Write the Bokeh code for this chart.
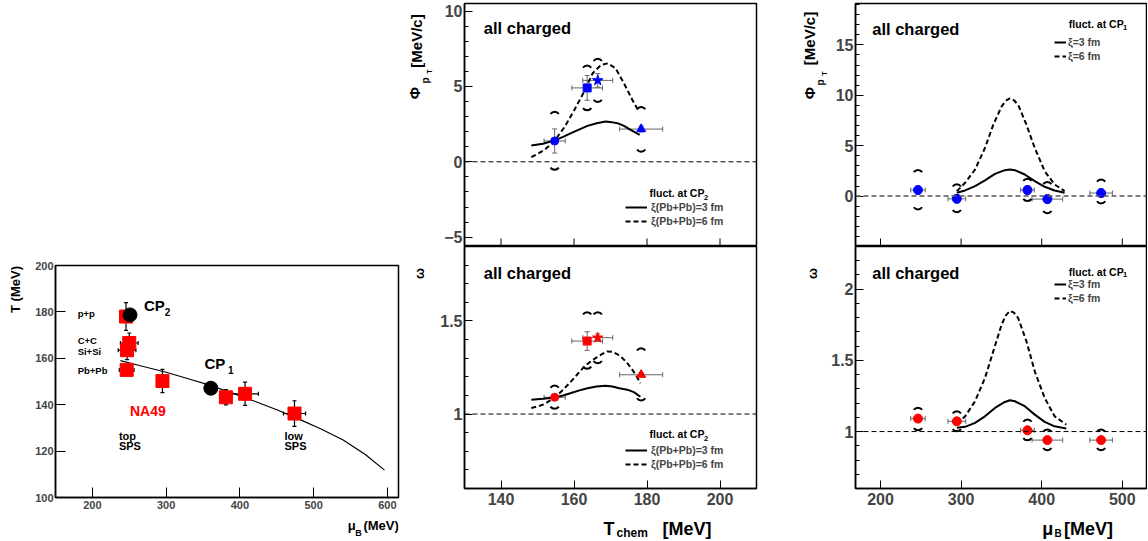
import numpy as np
from bokeh.plotting import figure
from bokeh.layouts import row, column
from bokeh.models import (Range1d, FixedTicker, Label, Span, Whisker, TeeHead,
                          ColumnDataSource, Legend, LegendItem, NumeralTickFormatter)
from bokeh.embed import file_html
from bokeh.resources import INLINE

FONT = "Liberation Sans"

# ---------------- data: left panel (T vs mu_B) ----------------
sys_mu = [245.6, 250.0, 247.0, 246.5, 295.0, 381.0, 407.0, 474.0]
sys_T = [178.0, 166.6, 163.5, 155.0, 150.2, 143.2, 144.7, 136.2]
sys_mu_err = [0.0, 12.0, 12.0, 10.0, 8.0, 8.0, 18.0, 15.0]
sys_T_err = [6.0, 4.3, 4.1, 1.0, 5.0, 3.3, 5.0, 5.5]
cp_mu = [251.0, 360.6]
cp_T = [178.7, 147.1]
fo_mu = [238, 265, 300, 330, 360, 390, 420, 450, 480, 510, 540, 570, 596]
fo_T = [159.0, 156.8, 154.0, 151.2, 148.3, 145.0, 141.5, 137.8, 133.8, 129.5, 124.8, 118.5, 111.8]

# ---------------- data: middle panels (vs T_chem) ----------------
tc = [154.7, 163.6, 166.5, 178.4]
tc_err = [2.9, 4.2, 4.1, 5.9]
tc_marker = ["circle", "square", "star", "triangle"]
tc_size = [8, 8, 11, 9]
phi_m = [1.38, 4.90, 5.40, 2.17]
phi_m_err = [0.80, 0.82, 0.45, 0.20]
phi_m_sys_hi = [2.98, 6.05, 6.50, 3.30]
phi_m_sys_lo = [-0.20, 3.75, 4.30, 1.00]
om_m = [1.090, 1.392, 1.410, 1.211]
om_m_err = [0.010, 0.050, 0.020, 0.010]
om_m_sys_hi = [1.126, 1.520, 1.520, 1.326]
om_m_sys_lo = [1.055, 1.270, 1.300, 1.100]

phi3_T = [148.3, 151.5, 154.7, 157.0, 159.2, 161.5, 163.7, 166.2, 168.7, 170.3, 171.9, 173.7, 175.5, 177.0, 178.0]
phi3 = [1.08, 1.20, 1.42, 1.65, 1.90, 2.15, 2.38, 2.56, 2.67, 2.63, 2.56, 2.38, 2.12, 1.92, 1.79]
phi6_T = [148.3, 150.2, 152.0, 154.7, 157.4, 160.1, 162.8, 165.1, 167.4, 169.3, 171.4, 173.7, 176.0, 177.8]
phi6 = [0.31, 0.55, 0.80, 1.41, 2.30, 3.44, 4.66, 5.87, 6.42, 6.53, 6.20, 5.20, 4.10, 3.33]
om3_T = [148.3, 151.5, 154.7, 157.0, 159.2, 161.5, 163.7, 166.2, 168.7, 170.5, 172.4, 174.6, 176.4, 178.2]
om3 = [1.077, 1.082, 1.089, 1.100, 1.113, 1.127, 1.139, 1.148, 1.152, 1.148, 1.139, 1.131, 1.118, 1.093]
om6_T = [148.3, 150.2, 152.0, 154.7, 157.0, 159.2, 161.0, 162.8, 164.4, 165.9, 167.5, 169.1, 170.5,
         171.9, 173.3, 174.6, 175.8, 176.9, 178.2]
om6 = [1.032, 1.042, 1.054, 1.089, 1.130, 1.175, 1.215, 1.255, 1.280, 1.300, 1.320, 1.336, 1.335,
       1.321, 1.300, 1.273, 1.243, 1.211, 1.166]

# ---------------- data: right panels (vs mu_B) ----------------
r_mu = [246.5, 294.7, 382.3, 407.0, 473.7]
r_mu_err = [9.0, 11.0, 8.5, 19.0, 14.0]
r_phi = [0.60, -0.27, 0.60, -0.30, 0.30]
r_phi_err = [0.40, 0.40, 0.40, 0.40, 0.40]
r_phi_sys_hi = [2.09, 0.67, 1.23, 0.90, 1.15]
r_phi_sys_lo = [-0.83, -1.10, 0.00, -1.20, -0.23]
r_om = [1.091, 1.072, 1.009, 0.940, 0.940]
r_om_err = [0.015, 0.015, 0.015, 0.015, 0.015]
r_om_sys_hi = [1.133, 1.107, 1.049, 0.980, 0.980]
r_om_sys_lo = [1.044, 1.037, 0.974, 0.904, 0.904]

rphi3_mu = [294.7, 305.0, 317.3, 329.6, 342.0, 354.3, 360.5, 366.7, 379.0, 391.4, 403.7, 416.0, 428.4]
rphi3 = [0.33, 0.56, 0.99, 1.55, 2.20, 2.57, 2.63, 2.57, 2.14, 1.48, 0.92, 0.56, 0.33]
rphi6_mu = [294.7, 305.0, 317.3, 329.6, 339.9, 350.2, 355.3, 360.5, 365.6, 370.8, 381.1, 391.4, 403.7, 416.0, 428.4]
rphi6 = [0.49, 1.32, 2.63, 4.77, 7.07, 8.88, 9.45, 9.70, 9.50, 9.05, 7.07, 4.77, 2.47, 1.15, 0.49]
rom3_mu = [294.7, 305.0, 317.3, 329.6, 342.0, 354.3, 360.5, 366.7, 379.0, 391.4, 403.7, 416.0, 430.5]
rom3 = [1.026, 1.033, 1.061, 1.107, 1.166, 1.208, 1.220, 1.213, 1.178, 1.119, 1.068, 1.037, 1.021]
rom6_mu = [294.7, 305.0, 317.3, 329.6, 339.9, 350.2, 355.3, 360.5, 365.6, 370.8, 381.1, 391.4, 403.7, 416.0, 430.5]
rom6 = [1.054, 1.107, 1.213, 1.376, 1.563, 1.750, 1.815, 1.848, 1.835, 1.797, 1.633, 1.423, 1.236, 1.107, 1.049]

# tick positions
left_xticks = [200, 300, 400, 500, 600]
left_yticks = [100, 120, 140, 160, 180, 200]
mid_xticks = [140, 160, 180, 200]
mid_phi_ticks = [-5, 0, 5, 10]
mid_phi_minor = list(range(-5, 11))
mid_om_ticks = [1.0, 1.5]
mid_om_minor = [round(0.6 + 0.1 * i, 1) for i in range(14)]
r_xticks = [200, 300, 400, 500]
r_phi_ticks = [0, 5, 10, 15]
r_phi_minor = list(range(-5, 20))
r_om_ticks = [1.0, 1.5, 2.0]
r_om_minor = [round(0.6 + 0.1 * i, 1) for i in range(18)]
phi_ref = 0.0
om_ref = 1.0

BLUE = "#0000ff"
RED = "#ff0000"
GRAY = "#666666"
PI2 = np.pi / 2


def mkfig(w, h, xr, yr, bl, br, bt, bb, xaxis=True):
    kw = {} if xaxis else {"x_axis_type": None}
    p = figure(width=w, height=h, x_range=Range1d(*xr), y_range=Range1d(*yr),
               output_backend="svg", toolbar_location=None,
               min_border_left=bl, min_border_right=br, min_border_top=bt, min_border_bottom=bb, **kw)
    p.xgrid.visible = False
    p.ygrid.visible = False
    p.outline_line_color = "black"
    p.outline_line_width = 1.5
    p.outline_line_alpha = 1.0
    return p


def textfig(w, h):
    f = figure(width=w, height=h, x_range=Range1d(0, w), y_range=Range1d(0, h),
               x_axis_type=None, y_axis_type=None, output_backend="svg", toolbar_location=None,
               min_border=0)
    f.outline_line_color = None
    return f


def style_axes(p, fs, tick_in=8, minor_in=4):
    for ax in p.axis:
        ax.major_tick_in = tick_in
        ax.major_tick_out = 0
        ax.minor_tick_in = minor_in
        ax.minor_tick_out = 0
        ax.axis_line_width = 1.5
        ax.major_label_text_font = FONT
        ax.major_label_text_font_style = "bold"
        ax.major_label_text_font_size = fs
        ax.major_label_standoff = 2
        ax.major_tick_line_width = 1
        ax.minor_tick_line_width = 1


def lab(p, x, y, text, size, angle=0.0, align="left", baseline="middle", color="black"):
    p.add_layout(Label(x=x, y=y, text=text, text_font=FONT, text_font_style="bold",
                       text_font_size=f"{size}px", angle=angle, text_align=align,
                       text_baseline=baseline, text_color=color))


def vlab(p, x, y, text, size):
    lab(p, x, y, text, size, angle=PI2, align="center", baseline="middle")


def errbars(p, x, y, xerr, yerr, color, head=4, width=1):
    x = np.asarray(x, float); y = np.asarray(y, float)
    xerr = np.asarray(xerr, float); yerr = np.asarray(yerr, float)
    src = ColumnDataSource(dict(x=x, y=y, xlo=x - xerr, xhi=x + xerr, ylo=y - yerr, yhi=y + yerr))
    p.add_layout(Whisker(source=src, base="y", lower="xlo", upper="xhi", dimension="width",
                         line_color=color, line_width=width,
                         upper_head=TeeHead(size=head, line_color=color, line_width=width),
                         lower_head=TeeHead(size=head, line_color=color, line_width=width)))
    p.add_layout(Whisker(source=src, base="x", lower="ylo", upper="yhi", dimension="height",
                         line_color=color, line_width=width,
                         upper_head=TeeHead(size=head, line_color=color, line_width=width),
                         lower_head=TeeHead(size=head, line_color=color, line_width=width)))


def brackets(p, x, hi, lo):
    p.arc(x=x, y=hi, radius=5, radius_units="screen", start_angle=0.6, end_angle=np.pi - 0.6,
          line_color="black", line_width=2)
    p.arc(x=x, y=lo, radius=5, radius_units="screen", start_angle=np.pi + 0.6,
          end_angle=2 * np.pi - 0.6, line_color="black", line_width=2)


def bottom_ticks(p, ticks, ybottom):
    p.scatter(ticks, [ybottom] * len(ticks), marker="dash", angle=PI2, size=16,
              line_color="black", line_width=1)


def legend(p, r3, r6, l3, l6, loc, gw, standoff):
    lg = Legend(items=[LegendItem(label=l3, renderers=[r3]), LegendItem(label=l6, renderers=[r6])],
                location=loc, padding=0, margin=0, spacing=0, label_height=14, glyph_height=14,
                glyph_width=gw, label_standoff=standoff, border_line_alpha=0,
                background_fill_alpha=0, label_text_font=FONT, label_text_font_style="bold",
                label_text_font_size="10.5px")
    p.add_layout(lg)


# ======================= LEFT PANEL =======================
pl = mkfig(372, 515, (150, 615), (100, 200), 27, 2, 265, 18)
pl.xaxis.ticker = FixedTicker(ticks=left_xticks, minor_ticks=[])
pl.yaxis.ticker = FixedTicker(ticks=left_yticks, minor_ticks=[])
style_axes(pl, "11px", tick_in=10, minor_in=0)
pl.xaxis.major_label_standoff = 3
pl.line(fo_mu, fo_T, line_color="black", line_width=1.2)
errbars(pl, sys_mu, sys_T, sys_mu_err, sys_T_err, "black", head=4, width=1.2)
pl.scatter(sys_mu, sys_T, marker="square", size=13, fill_color=RED, line_color=RED)
pl.scatter(cp_mu, cp_T, marker="circle", size=14, fill_color="black", line_color="black")
lab(pl, 180, 179.5, "p+p", 9.5)
lab(pl, 180, 167.7, "C+C", 9.5)
lab(pl, 180, 162.9, "Si+Si", 9.5)
lab(pl, 180, 154.7, "Pb+Pb", 9.5)
lab(pl, 270, 182.7, "CP", 15)
lab(pl, 298, 180.0, "2", 10)
lab(pl, 352, 157.9, "CP", 15)
lab(pl, 384, 155.0, "1", 10)
lab(pl, 251, 137.4, "NA49", 14, color=RED)
lab(pl, 236, 126.5, "top", 11)
lab(pl, 236, 122.2, "SPS", 11)
lab(pl, 460.5, 126.5, "low", 11)
lab(pl, 460.5, 122.2, "SPS", 11)

ytl = textfig(28, 540)
vlab(ytl, 15, 251, "T (MeV)", 13)
xtl = textfig(372, 25)
lab(xtl, 317, 15, "μ", 13, baseline="alphabetic")
lab(xtl, 325, 8, "B", 9, baseline="alphabetic")
lab(xtl, 334, 15, "(MeV)", 13, baseline="alphabetic")

# ======================= MIDDLE TOP =======================
pmt = mkfig(353, 246, (130, 210), (-5.62, 10.5), 26, 34, 3, 0, xaxis=False)
pmt.yaxis.ticker = FixedTicker(ticks=mid_phi_ticks, minor_ticks=mid_phi_minor)
style_axes(pmt, "16px")
bottom_ticks(pmt, mid_xticks, -5.62)
pmt.add_layout(Span(location=phi_ref, dimension="width", line_color="black", line_width=1,
                    line_dash="5 3"))
m_src_phi = ColumnDataSource(dict(x=tc, y=phi_m, m=tc_marker, s=tc_size))
errbars(pmt, tc, phi_m, tc_err, phi_m_err, GRAY, head=5)
brackets(pmt, tc, phi_m_sys_hi, phi_m_sys_lo)
r3 = pmt.line(phi3_T, phi3, line_color="black", line_width=2)
r6 = pmt.line(phi6_T, phi6, line_color="black", line_width=2, line_dash="5 3")
pmt.scatter("x", "y", marker="m", size="s", source=m_src_phi, fill_color=BLUE, line_color=BLUE)
legend(pmt, r3, r6, "ξ(Pb+Pb)=3 fm", "ξ(Pb+Pb)=6 fm", (161, 18), 22, 4)
lab(pmt, 135.3, 8.87, "all charged", 16.5)
lab(pmt, 180.7, -2.05, "fluct. at CP", 10.5)
lab(pmt, 195.6, -2.35, "2", 7.5)

# ======================= MIDDLE BOTTOM =======================
pmb = mkfig(353, 265, (130, 210), (0.6, 1.9), 26, 34, 0, 23)
pmb.xaxis.ticker = FixedTicker(ticks=mid_xticks, minor_ticks=[])
pmb.yaxis.ticker = FixedTicker(ticks=mid_om_ticks, minor_ticks=mid_om_minor)
pmb.yaxis.formatter = NumeralTickFormatter(format="0.[0]")
style_axes(pmb, "16px")
pmb.xaxis.major_label_standoff = 4
pmb.add_layout(Span(location=om_ref, dimension="width", line_color="black", line_width=1,
                    line_dash="5 3"))
m_src_om = ColumnDataSource(dict(x=tc, y=om_m, m=tc_marker, s=tc_size))
errbars(pmb, tc, om_m, tc_err, om_m_err, GRAY, head=5)
brackets(pmb, tc, om_m_sys_hi, om_m_sys_lo)
q3 = pmb.line(om3_T, om3, line_color="black", line_width=2)
q6 = pmb.line(om6_T, om6, line_color="black", line_width=2, line_dash="5 3")
pmb.scatter("x", "y", marker="m", size="s", source=m_src_om, fill_color=RED, line_color=RED)
legend(pmb, q3, q6, "ξ(Pb+Pb)=3 fm", "ξ(Pb+Pb)=6 fm", (161, 17), 22, 4)
lab(pmb, 135.3, 1.759, "all charged", 16.5)
lab(pmb, 180.7, 0.891, "fluct. at CP", 10.5)
lab(pmb, 195.6, 0.870, "2", 7.5)

# y titles of the middle column (figure spans page x 400..437)
ytm = textfig(37, 511)
vlab(ytm, 15.5, 470.5, "[MeV/c]", 15)
vlab(ytm, 14, 418.5, "Φ", 15)
vlab(ytm, 24.5, 431, "p", 10)
vlab(ytm, 28.5, 440, "T", 7)
vlab(ytm, 19, 238, "ω", 13)
xtm = textfig(390, 29)
lab(xtm, 203, 11.7, "T", 18, baseline="alphabetic")
lab(xtm, 216, 7.3, "chem", 12, baseline="alphabetic")
lab(xtm, 262, 11.7, "[MeV]", 18, baseline="alphabetic")

# ======================= RIGHT TOP =======================
prt = mkfig(319, 246, (169, 530), (-5, 19.1), 25, 1, 3, 0, xaxis=False)
prt.yaxis.ticker = FixedTicker(ticks=r_phi_ticks, minor_ticks=r_phi_minor)
style_axes(prt, "16px")
bottom_ticks(prt, r_xticks, -5)
prt.add_layout(Span(location=phi_ref, dimension="width", line_color="#555555", line_width=1.5,
                    line_dash="5 3"))
errbars(prt, r_mu, r_phi, r_mu_err, r_phi_err, GRAY, head=5)
brackets(prt, r_mu, r_phi_sys_hi, r_phi_sys_lo)
s3 = prt.line(rphi3_mu, rphi3, line_color="black", line_width=2)
s6 = prt.line(rphi6_mu, rphi6, line_color="black", line_width=2, line_dash="5 3")
prt.scatter(r_mu, r_phi, marker="circle", size=9, fill_color=BLUE, line_color=BLUE)
legend(prt, s3, s6, "ξ=3 fm", "ξ=6 fm", (199, 183), 12, 2)
lab(prt, 189.8, 16.53, "all charged", 16.5)
lab(prt, 433.7, 17.03, "fluct. at CP", 10.5)
lab(prt, 501.0, 16.73, "1", 7.5)

# ======================= RIGHT BOTTOM =======================
prb = mkfig(319, 265, (169, 530), (0.6, 2.3), 25, 1, 0, 23)
prb.xaxis.ticker = FixedTicker(ticks=r_xticks, minor_ticks=[])
prb.yaxis.ticker = FixedTicker(ticks=r_om_ticks, minor_ticks=r_om_minor)
prb.yaxis.formatter = NumeralTickFormatter(format="0.[0]")
style_axes(prb, "16px")
prb.xaxis.major_label_standoff = 4
prb.add_layout(Span(location=om_ref, dimension="width", line_color="black", line_width=1,
                    line_dash="5 3"))
errbars(prb, r_mu, r_om, r_mu_err, r_om_err, GRAY, head=5)
brackets(prb, r_mu, r_om_sys_hi, r_om_sys_lo)
t3 = prb.line(rom3_mu, rom3, line_color="black", line_width=2)
t6 = prb.line(rom6_mu, rom6, line_color="black", line_width=2, line_dash="5 3")
prb.scatter(r_mu, r_om, marker="circle", size=9, fill_color=RED, line_color=RED)
legend(prb, t3, t6, "ξ=3 fm", "ξ=6 fm", (199, 183), 12, 2)
lab(prb, 189.8, 2.112, "all charged", 16.5)
lab(prb, 433.7, 2.124, "fluct. at CP", 10.5)
lab(prb, 501.0, 2.100, "1", 7.5)

ytr = textfig(38, 511)
vlab(ytr, 19, 473, "[MeV/c]", 15)
vlab(ytr, 19, 418.5, "Φ", 15)
vlab(ytr, 29.5, 429, "p", 10)
vlab(ytr, 33.5, 438, "T", 7)
vlab(ytr, 21.5, 238, "ω", 13)
xtr = textfig(357, 29)
lab(xtr, 251.7, 12, "μ", 18, baseline="alphabetic")
lab(xtr, 264, 7, "B", 10, baseline="alphabetic")
lab(xtr, 273.5, 12, "[MeV]", 18, baseline="alphabetic")

left = row(ytl, column(pl, xtl))
mid = column(row(ytm, column(pmt, pmb)), xtm)
right = column(row(ytr, column(prt, prb)), xtr)
layout = row(left, mid, right)
open("out.html", "w").write(file_html(layout, INLINE))
